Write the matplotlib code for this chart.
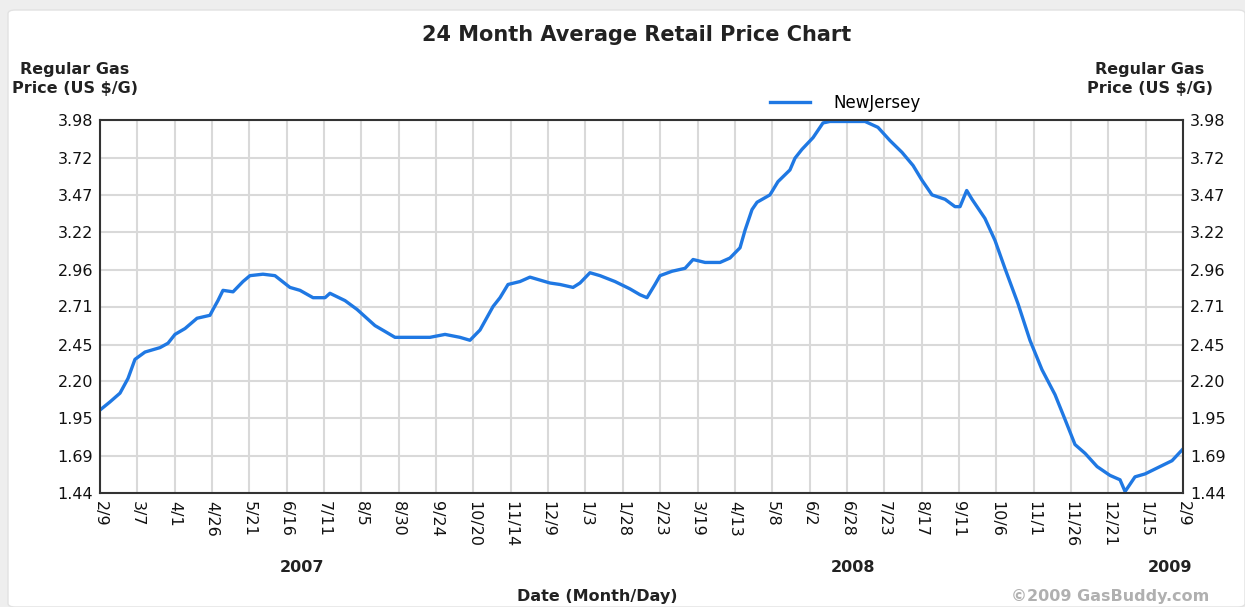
import matplotlib
matplotlib.use("Agg")
import matplotlib.pyplot as plt
from matplotlib.patches import FancyBboxPatch

# days since 2007-02-09 and New Jersey regular gas price
days = [0, 6.7, 13.5, 18.9, 23.6, 30.4, 40.5, 45.9, 50.6, 57.4, 65.5, 74.2, 76.3,
        79.6, 83.0, 89.8, 96.5, 101.2, 110.0, 118.1, 128.2, 135.0, 143.8, 151.9,
        155.2, 165.4, 173.5, 185.6, 192.4, 199.1, 209.2, 222.7, 232.9, 243.0,
        249.7, 256.5, 265.3, 270.0, 275.4, 283.5, 290.2, 303.7, 310.5, 319.3,
        324.0, 330.7, 337.5, 347.6, 357.7, 364.5, 369.2, 374.6, 378.0, 386.1,
        394.9, 400.3, 408.4, 418.5, 425.2, 432.0, 435.4, 440.1, 443.5, 452.2,
        457.6, 465.7, 469.1, 473.8, 481.3, 488.0, 492.7, 506.2, 516.4, 525.1,
        533.2, 541.3, 548.8, 554.8, 561.6, 570.4, 577.1, 580.5, 585.0, 588.6,
        597.3, 604.1, 610.8, 619.6, 627.7, 635.8, 644.6, 651.4, 658.1, 664.9,
        673.0, 681.7, 688.5, 691.9, 698.6, 705.4, 715.5, 723.6, 731]
price = [2.005, 2.06, 2.12, 2.22, 2.35, 2.40, 2.43, 2.46, 2.52, 2.56, 2.63, 2.65, 2.69,
         2.75, 2.82, 2.81, 2.88, 2.92, 2.93, 2.92, 2.84, 2.82, 2.77, 2.77,
         2.80, 2.75, 2.69, 2.58, 2.54, 2.50, 2.50, 2.50, 2.52, 2.50,
         2.48, 2.55, 2.71, 2.77, 2.86, 2.88, 2.91, 2.87, 2.86, 2.84,
         2.87, 2.94, 2.92, 2.88, 2.83, 2.79, 2.77, 2.86, 2.92, 2.95,
         2.97, 3.03, 3.01, 3.01, 3.04, 3.11, 3.23, 3.37, 3.42, 3.47,
         3.56, 3.64, 3.72, 3.78, 3.86, 3.96, 3.97, 3.97, 3.97, 3.93,
         3.84, 3.76, 3.67, 3.57, 3.47, 3.44, 3.39, 3.39, 3.50, 3.44,
         3.31, 3.16, 2.97, 2.73, 2.48, 2.28, 2.11, 1.94, 1.77, 1.71,
         1.62, 1.56, 1.53, 1.45, 1.55, 1.57, 1.62, 1.66, 1.74]

x_labels = ["2/9", "3/7", "4/1", "4/26", "5/21", "6/16", "7/11", "8/5", "8/30",
            "9/24", "10/20", "11/14", "12/9", "1/3", "1/28", "2/23", "3/19",
            "4/13", "5/8", "6/2", "6/28", "7/23", "8/17", "9/11", "10/6",
            "11/1", "11/26", "12/21", "1/15", "2/9"]
y_ticks = [1.44, 1.69, 1.95, 2.20, 2.45, 2.71, 2.96, 3.22, 3.47, 3.72, 3.98]
years = ["2007", "2008", "2009"]

W, H = 1245, 607
fig = plt.figure(figsize=(W / 100, H / 100), dpi=100)
fig.patch.set_facecolor("#eeeeee")
card = FancyBboxPatch((8 / W, 0), 1 - 8 / W, 1 - 10 / H,
                      boxstyle="round,pad=0,rounding_size=0.006",
                      transform=fig.transFigure, facecolor="white",
                      edgecolor="#e2e2e2", lw=1, zorder=-10)
fig.patches.append(card)

ax = fig.add_axes([100 / W, 1 - 493 / H, 1083 / W, 373 / H])
ax.set_facecolor("white")

total = 731
xt = [i * total / (len(x_labels) - 1) for i in range(len(x_labels))]

ax.plot(days, price, color="#1f78e3", lw=2.4, label="NewJersey", solid_joinstyle="round")

ax.set_xlim(0, total)
ax.set_ylim(y_ticks[0], y_ticks[-1])
ax.set_xticks(xt)
ax.set_xticklabels(x_labels, rotation=-90, fontsize=11.5, va="top", ha="center")
ax.set_yticks(y_ticks)
ax.set_yticklabels(["%.2f" % v for v in y_ticks], fontsize=11.5)
ax.tick_params(axis="both", length=0, pad=6, labelcolor="#111111")
ax.tick_params(axis="y", labelright=True, pad=5)
ax.grid(True, color="#d9d9d9", lw=1.5)
ax.set_axisbelow(True)
for s in ax.spines.values():
    s.set_color("#333333")
    s.set_linewidth(1.5)

fig.text(637 / W, 1 - 35 / H, "24 Month Average Retail Price Chart",
         ha="center", va="center", fontsize=15, fontweight="bold", color="#222222")
for xp in (75, 1150):
    fig.text(xp / W, 1 - 79 / H, "Regular Gas\nPrice (US $/G)", ha="center",
             va="center", fontsize=11.5, fontweight="bold", color="#222222",
             linespacing=1.35)

year_x = [302, 853, 1170]
for lab, xp in zip(years, year_x):
    fig.text(xp / W, 1 - 567 / H, lab, ha="center", va="center",
             fontsize=11.5, fontweight="bold", color="#222222")
fig.text(597 / W, 1 - 597 / H, "Date (Month/Day)", ha="center", va="center",
         fontsize=11.5, fontweight="bold", color="#222222")
fig.text(1110 / W, 1 - 597 / H, "\u00a92009 GasBuddy.com", ha="center", va="center",
         fontsize=11.5, fontweight="bold", color="#b0b0b0")

ax.legend(loc="center left", bbox_to_anchor=(770 / W, 1 - 103 / H),
          bbox_transform=fig.transFigure, frameon=False, fontsize=12,
          handlelength=2.4, handletextpad=1.4, borderpad=0, borderaxespad=0)

fig.savefig("out.png", dpi=100, facecolor=fig.get_facecolor())
